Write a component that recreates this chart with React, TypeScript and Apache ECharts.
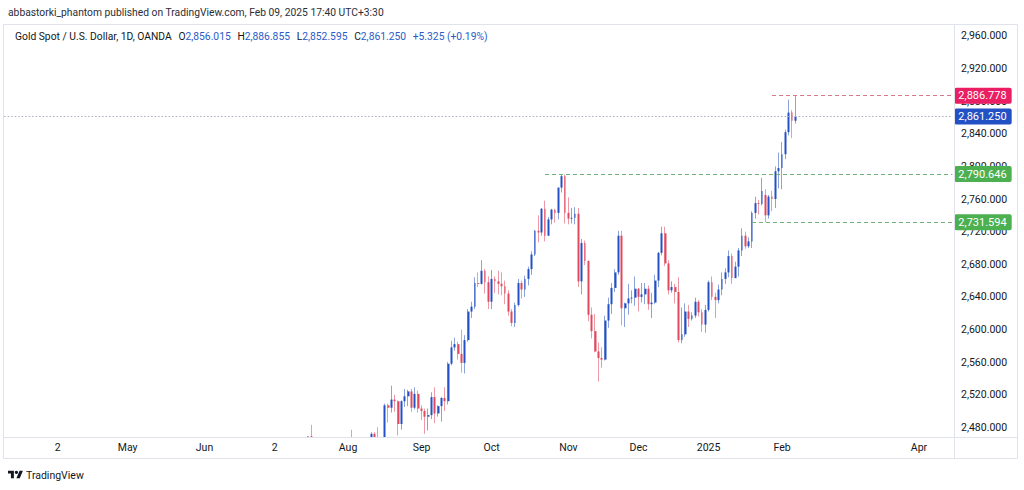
import { useEffect, useRef } from "react";
import * as echarts from "echarts";

const FONT = "Roboto, 'Liberation Sans', Arial, sans-serif";
const TEXT = "#131722";
const UP = "#2350c4";
const DOWN = "#e0485d";
const UP_WICK = "#8ca3da";
const DOWN_WICK = "#ee9aa6";

const START_DATE = "2024-03-11";
const CATEGORY_COUNT = 285;
const HOLIDAYS = ["2024-12-25", "2025-01-01"];

// [date, open, high, low, close]
type Bar = [string, number, number, number, number];

const jul2024: Bar[] = [
  ["2024-07-01", 2326, 2339, 2318, 2332],
  ["2024-07-02", 2332, 2336, 2319, 2330],
  ["2024-07-03", 2330, 2364, 2327, 2356],
  ["2024-07-04", 2356, 2365, 2352, 2356],
  ["2024-07-05", 2356, 2392, 2353, 2392],
  ["2024-07-08", 2391, 2393, 2353, 2359],
  ["2024-07-09", 2359, 2372, 2355, 2364],
  ["2024-07-10", 2364, 2377, 2359, 2371],
  ["2024-07-11", 2371, 2424, 2370, 2415],
  ["2024-07-12", 2415, 2424, 2392, 2411],
  ["2024-07-15", 2411, 2440, 2400, 2422],
  ["2024-07-16", 2422, 2469, 2421, 2469],
  ["2024-07-17", 2469, 2483, 2451, 2458],
  ["2024-07-18", 2458, 2462, 2434, 2445],
  ["2024-07-19", 2445, 2447, 2393, 2400],
  ["2024-07-22", 2400, 2412, 2384, 2396],
  ["2024-07-23", 2396, 2412, 2385, 2409],
  ["2024-07-24", 2409, 2431, 2396, 2397],
  ["2024-07-25", 2397, 2399, 2353, 2364],
  ["2024-07-26", 2364, 2390, 2364, 2387],
  ["2024-07-29", 2387, 2393, 2369, 2384],
  ["2024-07-30", 2384, 2412, 2376, 2410],
  ["2024-07-31", 2410, 2451, 2406, 2447],
];

const aug2024: Bar[] = [
  ["2024-08-01", 2447, 2462, 2428, 2446],
  ["2024-08-02", 2446, 2477, 2411, 2442],
  ["2024-08-05", 2442, 2461, 2364, 2409],
  ["2024-08-06", 2409, 2420, 2380, 2390],
  ["2024-08-07", 2390, 2404, 2375, 2383],
  ["2024-08-08", 2383, 2433, 2381, 2427],
  ["2024-08-09", 2427, 2439, 2413, 2431],
  ["2024-08-12", 2431, 2474, 2423, 2472],
  ["2024-08-13", 2472, 2474, 2458, 2465],
  ["2024-08-14", 2465, 2480, 2441, 2447],
  ["2024-08-15", 2447, 2464, 2432, 2456],
  ["2024-08-16", 2456, 2509, 2455, 2507],
  ["2024-08-19", 2507, 2509, 2486, 2504],
  ["2024-08-20", 2504, 2531, 2498, 2514],
  ["2024-08-21", 2514, 2520, 2499, 2512],
  ["2024-08-22", 2512, 2513, 2470, 2484],
  ["2024-08-23", 2484, 2513, 2477, 2512],
  ["2024-08-26", 2512, 2527, 2505, 2518],
  ["2024-08-27", 2518, 2526, 2506, 2524],
  ["2024-08-28", 2524, 2527, 2499, 2504],
  ["2024-08-29", 2504, 2529, 2502, 2521],
  ["2024-08-30", 2521, 2525, 2498, 2503],
];

const sep2024: Bar[] = [
  ["2024-09-02", 2503, 2507, 2489, 2500],
  ["2024-09-03", 2500, 2503, 2472, 2493],
  ["2024-09-04", 2493, 2503, 2476, 2495],
  ["2024-09-05", 2495, 2523, 2490, 2517],
  ["2024-09-06", 2517, 2529, 2485, 2497],
  ["2024-09-09", 2497, 2507, 2493, 2506],
  ["2024-09-10", 2506, 2517, 2487, 2516],
  ["2024-09-11", 2516, 2529, 2500, 2512],
  ["2024-09-12", 2512, 2560, 2508, 2558],
  ["2024-09-13", 2558, 2586, 2556, 2578],
  ["2024-09-16", 2578, 2590, 2574, 2582],
  ["2024-09-17", 2582, 2585, 2563, 2570],
  ["2024-09-18", 2570, 2600, 2547, 2559],
  ["2024-09-19", 2559, 2593, 2546, 2587],
  ["2024-09-20", 2587, 2625, 2585, 2622],
  ["2024-09-23", 2622, 2634, 2614, 2628],
  ["2024-09-24", 2628, 2664, 2625, 2657],
  ["2024-09-25", 2657, 2670, 2652, 2656],
  ["2024-09-26", 2656, 2685, 2655, 2672],
  ["2024-09-27", 2672, 2674, 2644, 2658],
  ["2024-09-30", 2658, 2665, 2625, 2634],
];

const oct2024: Bar[] = [
  ["2024-10-01", 2634, 2673, 2625, 2662],
  ["2024-10-02", 2662, 2665, 2645, 2659],
  ["2024-10-03", 2659, 2672, 2643, 2656],
  ["2024-10-04", 2656, 2670, 2642, 2653],
  ["2024-10-07", 2653, 2660, 2631, 2644],
  ["2024-10-08", 2644, 2648, 2617, 2622],
  ["2024-10-09", 2622, 2625, 2604, 2608],
  ["2024-10-10", 2608, 2633, 2603, 2630],
  ["2024-10-11", 2630, 2662, 2628, 2657],
  ["2024-10-14", 2657, 2660, 2638, 2649],
  ["2024-10-15", 2649, 2666, 2640, 2662],
  ["2024-10-16", 2662, 2677, 2654, 2674],
  ["2024-10-17", 2674, 2696, 2667, 2692],
  ["2024-10-18", 2692, 2722, 2690, 2721],
  ["2024-10-21", 2721, 2740, 2707, 2719],
  ["2024-10-22", 2719, 2749, 2715, 2748],
  ["2024-10-23", 2748, 2758, 2708, 2715],
  ["2024-10-24", 2715, 2738, 2715, 2735],
  ["2024-10-25", 2735, 2748, 2729, 2747],
  ["2024-10-28", 2747, 2748, 2731, 2743],
  ["2024-10-29", 2743, 2774, 2735, 2774],
  ["2024-10-30", 2774, 2790.646, 2768, 2788],
  ["2024-10-31", 2788, 2790, 2730, 2743],
];

const nov2024: Bar[] = [
  ["2024-11-01", 2743, 2762, 2729, 2736],
  ["2024-11-04", 2736, 2749, 2730, 2737],
  ["2024-11-05", 2737, 2750, 2729, 2742],
  ["2024-11-06", 2742, 2749, 2652, 2659],
  ["2024-11-07", 2659, 2711, 2643, 2706],
  ["2024-11-08", 2706, 2709, 2679, 2684],
  ["2024-11-11", 2684, 2685, 2610, 2618],
  ["2024-11-12", 2618, 2627, 2589, 2598],
  ["2024-11-13", 2598, 2619, 2572, 2573],
  ["2024-11-14", 2573, 2584, 2536, 2565],
  ["2024-11-15", 2565, 2578, 2553, 2563],
  ["2024-11-18", 2563, 2617, 2562, 2611],
  ["2024-11-19", 2611, 2639, 2602, 2631],
  ["2024-11-20", 2631, 2657, 2619, 2651],
  ["2024-11-21", 2651, 2674, 2646, 2670],
  ["2024-11-22", 2670, 2721, 2667, 2715],
  ["2024-11-25", 2715, 2721, 2605, 2626],
  ["2024-11-26", 2626, 2633, 2603, 2632],
  ["2024-11-27", 2632, 2656, 2618, 2638],
  ["2024-11-28", 2638, 2648, 2632, 2639],
  ["2024-11-29", 2639, 2665, 2629, 2650],
];

const dec2024: Bar[] = [
  ["2024-12-02", 2650, 2651, 2622, 2640],
  ["2024-12-03", 2640, 2657, 2633, 2643],
  ["2024-12-04", 2643, 2657, 2631, 2650],
  ["2024-12-05", 2650, 2654, 2624, 2631],
  ["2024-12-06", 2631, 2645, 2614, 2633],
  ["2024-12-09", 2633, 2667, 2631, 2660],
  ["2024-12-10", 2660, 2695, 2652, 2694],
  ["2024-12-11", 2694, 2726, 2691, 2718],
  ["2024-12-12", 2718, 2726, 2678, 2681],
  ["2024-12-13", 2681, 2685, 2643, 2648],
  ["2024-12-16", 2648, 2659, 2645, 2652],
  ["2024-12-17", 2652, 2656, 2632, 2646],
  ["2024-12-18", 2646, 2664, 2584, 2587],
  ["2024-12-19", 2587, 2627, 2583, 2594],
  ["2024-12-20", 2594, 2632, 2591, 2622],
  ["2024-12-23", 2622, 2630, 2603, 2613],
  ["2024-12-24", 2613, 2621, 2611, 2617],
  ["2024-12-26", 2617, 2639, 2614, 2634],
  ["2024-12-27", 2634, 2636, 2616, 2621],
  ["2024-12-30", 2621, 2625, 2597, 2606],
  ["2024-12-31", 2606, 2630, 2596, 2624],
];

const jan2025: Bar[] = [
  ["2025-01-02", 2624, 2660, 2622, 2658],
  ["2025-01-03", 2658, 2665, 2636, 2640],
  ["2025-01-06", 2640, 2645, 2614, 2636],
  ["2025-01-07", 2636, 2655, 2632, 2649],
  ["2025-01-08", 2649, 2670, 2642, 2662],
  ["2025-01-09", 2662, 2675, 2656, 2670],
  ["2025-01-10", 2670, 2697, 2664, 2690],
  ["2025-01-13", 2690, 2693, 2656, 2663],
  ["2025-01-14", 2663, 2683, 2663, 2677],
  ["2025-01-15", 2677, 2700, 2665, 2697],
  ["2025-01-16", 2697, 2724, 2690, 2715],
  ["2025-01-17", 2715, 2720, 2699, 2702],
  ["2025-01-20", 2702, 2713, 2700, 2708],
  ["2025-01-21", 2708, 2745, 2700, 2743],
  ["2025-01-22", 2743, 2763, 2736, 2755],
  ["2025-01-23", 2755, 2759, 2741, 2754],
  ["2025-01-24", 2754, 2786, 2752, 2770],
  ["2025-01-27", 2765, 2772, 2731.594, 2740],
  ["2025-01-28", 2740, 2765, 2736, 2763],
  ["2025-01-29", 2763, 2770, 2745, 2760],
  ["2025-01-30", 2760, 2800, 2749, 2794],
  ["2025-01-31", 2794, 2817, 2773, 2798],
];

const feb2025: Bar[] = [
  ["2025-02-03", 2798, 2830, 2772, 2815],
  ["2025-02-04", 2815, 2845, 2809, 2842],
  ["2025-02-05", 2842, 2882, 2838, 2866],
  ["2025-02-06", 2866, 2869, 2835, 2855.925],
  ["2025-02-07", 2856.015, 2886.855, 2852.595, 2861.25],
];

const timeLabels: [string, string][] = [
  ["2024-04-02", "2"],
  ["2024-05-01", "May"],
  ["2024-06-03", "Jun"],
  ["2024-07-02", "2"],
  ["2024-08-01", "Aug"],
  ["2024-09-02", "Sep"],
  ["2024-10-01", "Oct"],
  ["2024-11-01", "Nov"],
  ["2024-12-02", "Dec"],
  ["2025-01-02", "2025"],
  ["2025-02-03", "Feb"],
  ["2025-04-01", "Apr"],
];

const priceTicks = [2480, 2520, 2560, 2600, 2640, 2680, 2720, 2760, 2800, 2840, 2880, 2920, 2960];
const Y_MIN = 2468.1;
const Y_MAX = 2974.7;

// Horizontal levels: [fromDate, value]
const recentHigh: [string, number] = ["2025-01-29", 2886.778];
const resistance: [string, number] = ["2024-10-23", 2790.646];
const support: [string, number] = ["2025-01-21", 2731.594];

const HEADER = "abbastorki_phantom published on TradingView.com, Feb 09, 2025 17:40 UTC+3:30";
const SYMBOL = "Gold Spot / U.S. Dollar, 1D, OANDA";

const LOGO_PATH = "M14 22H7V11H0V4h14v18zM28 22h-8l7.5-18h8L28 22z";

function fmt(v: number): string {
  return v.toLocaleString("en-US", { minimumFractionDigits: 3, maximumFractionDigits: 3 });
}

function buildCategories(): string[] {
  const out: string[] = [];
  const d = new Date(START_DATE + "T00:00:00Z");
  while (out.length < CATEGORY_COUNT) {
    const day = d.getUTCDay();
    const s = d.toISOString().slice(0, 10);
    if (day !== 0 && day !== 6 && !HOLIDAYS.includes(s)) out.push(s);
    d.setUTCDate(d.getUTCDate() + 1);
  }
  return out;
}

let logoRegistered = false;

export default function App() {
  const ref = useRef<HTMLDivElement>(null);

  useEffect(() => {
    if (!ref.current) return;
    if (!logoRegistered) {
      echarts.graphic.registerShape("tvlogo", echarts.graphic.extendPath(LOGO_PATH, {}) as any);
      logoRegistered = true;
    }
    const chart = echarts.init(ref.current, undefined, { renderer: "svg" });

    const categories = buildCategories();
    const bars = [...jul2024, ...aug2024, ...sep2024, ...oct2024, ...nov2024, ...dec2024, ...jan2025, ...feb2025];
    const byDate = new Map<string, Bar>();
    bars.forEach((b) => byDate.set(b[0], b));

    const full = categories.map((c) => {
      const b = byDate.get(c);
      return b ? [b[1], b[4], b[3], b[2]] : ["-", "-", "-", "-"];
    });
    const bodies = categories.map((c) => {
      const b = byDate.get(c);
      return b ? [b[1], b[4], Math.min(b[1], b[4]), Math.max(b[1], b[4])] : ["-", "-", "-", "-"];
    });

    const labelMap = new Map<string, string>(timeLabels);
    const lastCat = categories[categories.length - 1];
    const last = bars[bars.length - 1];
    const prev = bars[bars.length - 2];
    const change = last[4] - prev[4];
    const changePct = (change / prev[4]) * 100;

    const tag = (text: string, bg: string) => ({
      show: true,
      position: "end",
      distance: 2,
      formatter: text,
      color: "#ffffff",
      backgroundColor: bg,
      padding: [3, 5, 2, 4],
      borderRadius: 2,
      fontSize: 11,
      fontFamily: FONT,
    });

    const levelLine = (from: string, value: number, color: string, dash: number[], labelBg: string | null) => [
      {
        coord: [from, value],
        lineStyle: { color, type: dash, width: 1 },
        label: labelBg ? tag(fmt(value), labelBg) : { show: false },
      },
      { coord: [lastCat, value] },
    ];

    const textStyle = { fontFamily: FONT, fontSize: 10.3, fill: TEXT };

    const option: any = {
      animation: false,
      backgroundColor: "#ffffff",
      grid: { left: 2.5, right: 70, top: 24, bottom: 53 },
      xAxis: {
        type: "category",
        data: categories,
        boundaryGap: true,
        z: 10,
        axisLine: { show: false },
        axisTick: { show: false },
        splitLine: { show: false },
        axisLabel: {
          interval: (_i: number, v: string) => labelMap.has(v),
          formatter: (v: string) => labelMap.get(v) ?? "",
          color: TEXT,
          fontSize: 10.5,
          fontFamily: FONT,
          margin: 5,
        },
      },
      yAxis: {
        type: "value",
        position: "right",
        min: Y_MIN,
        max: Y_MAX,
        axisLine: { show: false },
        axisTick: { show: false },
        splitLine: { show: false },
        axisLabel: {
          customValues: priceTicks,
          formatter: (v: number) => fmt(v),
          color: TEXT,
          fontSize: 10.5,
          fontFamily: FONT,
          margin: 7,
        },
      },
      series: [
        {
          type: "candlestick",
          name: "wicks",
          data: full,
          barWidth: 0.01,
          clip: true,
          silent: true,
          itemStyle: {
            color: UP_WICK,
            color0: DOWN_WICK,
            borderColor: UP_WICK,
            borderColor0: DOWN_WICK,
            borderColorDoji: UP_WICK,
            borderWidth: 1,
          },
        },
        {
          type: "candlestick",
          name: "bodies",
          data: bodies,
          barWidth: 2.3,
          clip: true,
          silent: true,
          itemStyle: {
            color: UP,
            color0: DOWN,
            borderColor: UP,
            borderColor0: DOWN,
            borderColorDoji: UP,
            borderWidth: 0,
          },
          markLine: {
            silent: true,
            symbol: ["none", "none"],
            animation: false,
            data: [
              levelLine(categories[0], last[4], "#a5adbd", [1.5, 2], UP),
              levelLine(recentHigh[0], recentHigh[1], "#d9798c", [4, 3], "#e91e63"),
              levelLine(resistance[0], resistance[1], "#72b47c", [4, 3], "#4caf50"),
              levelLine(support[0], support[1], "#72b47c", [4, 3], "#4caf50"),
            ],
          },
        },
      ],
      graphic: [
        {
          // cover candle parts that run below the price pane
          type: "rect",
          silent: true,
          z: 5,
          shape: { x: 0, y: 438, width: 954, height: 52 },
          style: { fill: "#ffffff" },
        },
        {
          type: "rect",
          silent: true,
          z: 6,
          shape: { x: 3.5, y: 24.5, width: 1014, height: 434 },
          style: { fill: "none", stroke: "#e0e3eb", lineWidth: 1 },
        },
        {
          type: "line",
          silent: true,
          z: 6,
          shape: { x1: 954.5, y1: 24.5, x2: 954.5, y2: 458.5 },
          style: { stroke: "#e0e3eb", lineWidth: 1 },
        },
        {
          type: "line",
          silent: true,
          z: 6,
          shape: { x1: 3.5, y1: 437.5, x2: 1017.5, y2: 437.5 },
          style: { stroke: "#e0e3eb", lineWidth: 1 },
        },
        {
          type: "text",
          silent: true,
          z: 6,
          x: 8,
          y: 12,
          style: { ...textStyle, fill: "#2a2e39", text: HEADER, verticalAlign: "middle" },
        },
        {
          type: "text",
          silent: true,
          x: 15,
          y: 36,
          z: 10,
          style: {
            text:
              `{n|${SYMBOL}}  {n|O}{v|${fmt(last[1])}}  {n|H}{v|${fmt(last[2])}}  ` +
              `{n|L}{v|${fmt(last[3])}}  {n|C}{v|${fmt(last[4])}}  ` +
              `{v|${change >= 0 ? "+" : ""}${fmt(change)} (${change >= 0 ? "+" : ""}${changePct.toFixed(2)}%)}`,
            verticalAlign: "middle",
            rich: {
              n: { fontFamily: FONT, fontSize: 10.3, fill: TEXT },
              v: { fontFamily: FONT, fontSize: 10.3, fill: "#2a5bc9" },
            },
          },
        },
        {
          type: "group",
          silent: true,
          z: 6,
          x: 8,
          y: 469,
          scaleX: 0.42,
          scaleY: 0.42,
          children: [
            { type: "tvlogo", z: 6, style: { fill: TEXT } },
            { type: "circle", z: 6, shape: { cx: 20, cy: 8, r: 4 }, style: { fill: TEXT } },
          ],
        },
        {
          type: "text",
          silent: true,
          z: 6,
          x: 26,
          y: 475,
          style: { fontFamily: FONT, fontSize: 10.5, fill: TEXT, text: "TradingView", verticalAlign: "middle" },
        },
      ],
    };

    chart.setOption(option);
    return () => chart.dispose();
  }, []);

  return (
    <div
      ref={ref}
      style={{ position: "fixed", left: 0, top: 0, width: 1024, height: 490, background: "#fff" }}
    />
  );
}
